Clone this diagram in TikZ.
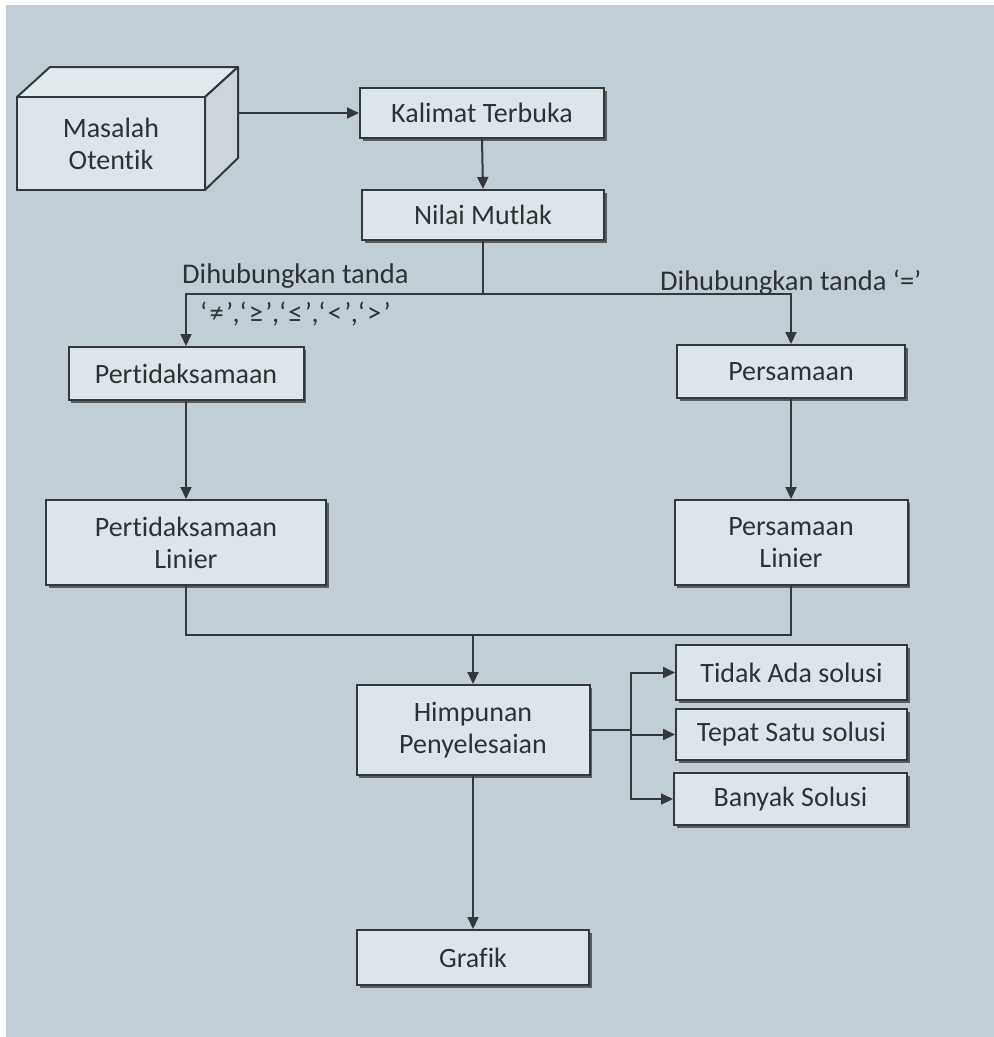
\documentclass[tikz,border=0pt]{standalone}
\usepackage{fontspec}
\setmainfont{Carlito}[Ligatures={NoCommon}]
\usetikzlibrary{arrows.meta,shadows}
\definecolor{bg}{HTML}{C1CED5}
\definecolor{boxfill}{HTML}{DCE5EA}
\definecolor{edge}{HTML}{35383B}
\definecolor{txt}{HTML}{2F3234}
\definecolor{cubetop}{HTML}{E3EAEE}
\definecolor{cubeside}{HTML}{CBD5DA}
\begin{document}
\begin{tikzpicture}[x=1pt,y=-1pt,
  box/.style={draw=edge, line width=2pt, fill=boxfill, text=txt, align=center,
    inner sep=0pt, font=\fontsize{28}{32}\selectfont,
    drop shadow={shadow xshift=2.5pt, shadow yshift=-3pt, fill=black!75, opacity=0.8}},
  conn/.style={draw=edge, line width=2pt},
  arr/.style={conn, -{Triangle[length=12pt,width=11pt]}},
  lbl/.style={text=txt, font=\fontsize{28.5}{32}\selectfont, inner sep=0pt}]

\useasboundingbox (0,0) rectangle (994,1037);
\fill[white] (0,0) rectangle (994,1037);
\fill[bg] (6,5) rectangle (994,1037);

% cube
\fill[cubetop, draw=edge, line width=2pt, line join=round] (17,97) -- (50,67) -- (238,67) -- (205,97) -- cycle;
\fill[cubeside, draw=edge, line width=2pt, line join=round] (205,97) -- (238,67) -- (238,158) -- (205,190) -- cycle;
\node[draw=edge, line width=2pt, fill=boxfill, text=txt, align=center, inner sep=0pt,
  font=\fontsize{28}{32}\selectfont, minimum width=188pt, minimum height=93pt] (cube) at (111,143.5) {Masalah\\Otentik};
\coordinate (cubeR) at (238,113);

\node[box, minimum width=244pt, minimum height=50pt] (kal) at (482,113) {Kalimat Terbuka};
\node[box, minimum width=242pt, minimum height=50pt] (nil) at (483,215) {Nilai Mutlak};
\node[box, minimum width=235pt, minimum height=53pt] (pert) at (186,373.5) {Pertidaksamaan};
\node[box, minimum width=228pt, minimum height=53pt] (pers) at (791,371.5) {Persamaan};
\node[box, minimum width=280pt, minimum height=85pt] (pertl) at (186,542.5) {Pertidaksamaan\\Linier};
\node[box, minimum width=233pt, minimum height=85pt] (persl) at (791,542.5) {Persamaan\\Linier};
\node[box, minimum width=233pt, minimum height=90pt] (himp) at (473,730) {Himpunan\\Penyelesaian};
\node[box, minimum width=231pt, minimum height=55pt] (tidak) at (791.5,672.5) {Tidak Ada solusi};
\node[box, minimum width=231pt, minimum height=51pt] (tepat) at (791.5,734.5) {Tepat Satu solusi};
\node[box, minimum width=233pt, minimum height=52pt] (banyak) at (790.5,799) {Banyak Solusi};
\node[box, minimum width=232pt, minimum height=55pt] (graf) at (473,957.5) {Grafik};

% connectors
\draw[arr] (cubeR) -- (kal.west |- cubeR);
\draw[arr] (kal.south) -- (nil.north);
\coordinate (split) at (483,294);
\draw[conn] (nil.south) -- (split);
\draw[arr] (split) -| (pert.north);
\draw[arr] (split) -| (pers.north);
\draw[arr] (pert.south) -- (pertl.north);
\draw[arr] (pers.south) -- (persl.north);
\coordinate (merge) at (473,635);
\draw[conn] (pertl.south) |- (merge) -| (persl.south);
\draw[arr] (merge) -- (himp.north);
\coordinate (br) at (631,730);
\draw[conn] (himp.east |- br) -- (br);
\draw[arr] (br) |- (tidak.west);
\draw[arr] (br) |- (tepat.west);
\draw[arr] (br) |- (banyak.west);
\draw[arr] (himp.south) -- (graf.north);

% labels
\node[lbl, anchor=base west] (l1) at (182,283) {Dihubungkan tanda};
\node[lbl, anchor=base west] (l2) at (200,322) {\addfontfeature{LetterSpace=8}‘≠’,‘≥’,‘≤’,‘<’,‘>’};
\node[lbl, anchor=base west] (l3) at (660,290) {Dihubungkan tanda ‘=’};
\end{tikzpicture}
\end{document}
